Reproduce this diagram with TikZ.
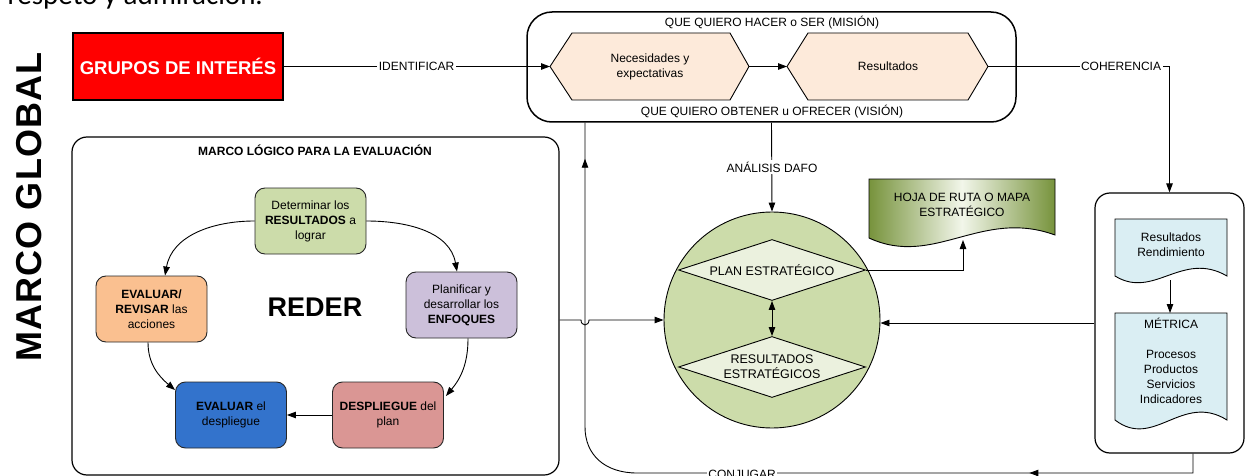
\documentclass[tikz,border=0pt]{standalone}
\usepackage{fontspec}
\setmainfont{Liberation Sans}
\newfontfamily\calfont{Carlito}
\newfontfamily\mgfont[LetterSpace=3]{Liberation Sans}
\usetikzlibrary{arrows.meta,shapes.geometric,calc,decorations.markings}
\definecolor{cred}{HTML}{FF0000}
\definecolor{hexfill}{HTML}{FDEADA}
\definecolor{cgreen}{HTML}{CCDCAA}
\definecolor{dfill}{HTML}{EBF1DE}
\definecolor{cpurple}{HTML}{CCC0DA}
\definecolor{corange}{HTML}{FAC090}
\definecolor{cblue}{HTML}{3373CC}
\definecolor{credbox}{HTML}{DA9694}
\definecolor{docblue}{HTML}{DAEEF3}
\definecolor{hojaD}{HTML}{77933C}
\definecolor{hojaL}{HTML}{F2F6EA}
\begin{document}
\begin{tikzpicture}[x=1pt,y=1pt,
  every node/.style={font=\fontsize{12}{15}\selectfont, align=center, inner sep=0pt},
  ln/.style={draw=black, line width=0.9pt},
  tip/.style={-{Triangle[length=9pt,width=6.5pt]}},
  lbl/.style={fill=white, inner sep=1.5pt},
  rederbox/.style={draw=black!85, line width=0.9pt, rounded corners=10pt, minimum width=111pt, minimum height=66pt},
  docline/.style={draw=black, line width=0.9pt},
]
\useasboundingbox (0,0) rectangle (1245,-476);

% partial text at the top
\node[anchor=base east, font=\calfont\fontsize{29}{31}\selectfont] (toptext) at (263,-5) {respeto y admiración.};

% MARCO GLOBAL
\node[rotate=90, font=\mgfont\bfseries\fontsize{36}{40}\selectfont] (mg) at (29,-207) {MARCO GLOBAL};

% Grupos de interes
\node[draw=black, line width=1.2pt, fill=cred, minimum width=210pt, minimum height=67pt,
      text=white, font=\bfseries\fontsize{18.5}{22}\selectfont] (grupos) at (178,-66.5) {GRUPOS DE INTERÉS};

% Mission box
\node[draw=black, line width=1.5pt, rounded corners=25pt, minimum width=489pt, minimum height=110pt] (mision) at (771.5,-67) {};
\node (mtop) at (772,-23) {QUE QUIERO HACER o SER (MISIÓN)};
\node (mbot) at (772,-112) {QUE QUIERO OBTENER u OFRECER (VISIÓN)};

% hexagons
\coordinate (hex1L) at (550,-66.5);
\coordinate (hex1R) at (749,-66.5);
\coordinate (hex2L) at (787,-66.5);
\coordinate (hex2R) at (988,-66.5);
\draw[line width=0.9pt, fill=hexfill] (hex1L) -- (572,-33) -- (730,-33) -- (hex1R) -- (730,-100) -- (572,-100) -- cycle;
\draw[line width=0.9pt, fill=hexfill] (hex2L) -- (808,-33) -- (968,-33) -- (hex2R) -- (968,-100) -- (808,-100) -- cycle;
\node (hex1t) at (650,-66.5) {Necesidades y\\expectativas};
\node (hex2t) at (888,-66.5) {Resultados};

% MARCO LOGICO box
\node[draw=black, line width=1.2pt, rounded corners=15pt, minimum width=487pt, minimum height=338pt] (marco) at (315.5,-306) {};
\node[font=\bfseries\fontsize{12}{15}\selectfont] (marcot) at (315,-150) {MARCO LÓGICO PARA LA EVALUACIÓN};
\node[font=\bfseries\fontsize{27}{30}\selectfont] (reder) at (315,-307) {REDER};

\node[rederbox, fill=cgreen] (g) at (310.5,-221) {Determinar los\\\textbf{RESULTADOS} a\\lograr};
\node[rederbox, fill=cpurple] (p) at (461.5,-305) {Planificar y\\desarrollar los\\\textbf{ENFOQUES}};
\node[rederbox, fill=corange] (o) at (151.5,-309) {\textbf{EVALUAR/}\\\textbf{REVISAR} las\\acciones};
\node[rederbox, fill=cblue] (b) at (231,-415) {\textbf{EVALUAR} el\\despliegue};
\node[rederbox, fill=credbox] (r) at (388,-415) {\textbf{DESPLIEGUE} del\\plan};

\draw[ln,tip] (g.west) to[out=180,in=80] ($(o.north)+(13.5,0)$);
\draw[ln,tip] (g.east) to[out=0,in=100] ($(p.north)+(-4.5,0)$);
\draw[ln,tip] ($(p.south)+(6.5,0)$) to[out=-90,in=50] ($(r.east)+(2,19)$);
\draw[ln,tip] ($(o.south)+(-3.5,0)$) to[out=-90,in=140] ($(b.west)+(0,25)$);
\draw[ln,tip] (r.west) -- (b.east);

% circle and diamonds
\node[circle, draw=black, line width=0.9pt, fill=cgreen, minimum size=216pt] (circ) at (772,-320) {};
\node[diamond, draw=black, line width=0.9pt, fill=dfill, aspect=3, minimum width=187pt, minimum height=61pt, font=\fontsize{12.5}{15}\selectfont] (d1) at (772,-270) {PLAN ESTRATÉGICO};
\node[diamond, draw=black, line width=0.9pt, fill=dfill, aspect=3, minimum width=187pt, minimum height=61pt, font=\fontsize{12.5}{15}\selectfont] (d2) at (772,-367) {RESULTADOS\\ESTRATÉGICOS};
\draw[ln,{Triangle[length=9pt,width=6.5pt]}-{Triangle[length=9pt,width=6.5pt]}] (d1.south) -- (d2.north);

% HOJA DE RUTA document
\shadedraw[docline, left color=hojaD, right color=hojaD, middle color=hojaL]
  (869,-179) -- (1055,-179) -- (1055,-235) .. controls (981,-208) and (934,-268) .. (869,-238) -- cycle;
\node (hoja) at (962,-204.5) {HOJA DE RUTA O MAPA\\ESTRATÉGICO};
\coordinate (hojab) at (963,-240);

% right box with documents
\node[draw=black, line width=1.2pt, rounded corners=15pt, minimum width=149pt, minimum height=260pt] (rbox) at (1169.5,-323) {};
\draw[docline, fill=docblue] (1115,-219) -- (1227,-219) -- (1227,-276) .. controls (1182,-250) and (1154,-300) .. (1115,-276) -- cycle;
\draw[docline, fill=docblue] (1115,-313) -- (1227,-313) -- (1227,-420) .. controls (1182,-392) and (1154,-450) .. (1115,-420) -- cycle;
\node (doc1) at (1171,-244.5) {Resultados\\Rendimiento};
\node (doc2) at (1171,-360.5) {MÉTRICA\\[15pt]Procesos\\Productos\\Servicios\\Indicadores};
\coordinate (doc1b) at (1170,-280);
\coordinate (doc2t) at (1170,-313);
\draw[ln,tip] (doc1b) -- (doc2t);

% connectors
\draw[ln,tip] (grupos.east) -- (hex1L);
\draw[ln,tip] (hex1R) -- (hex2L);
\draw[ln,tip] (hex2R) -| (rbox.north);
\draw[ln,tip] (mision.south) -- (circ.north);
\draw[ln,tip] (d1.east) -| (hojab);
\draw[ln,tip] (marco.east |- circ.west) -- (581,-320) .. controls (581,-326.5) and (589,-326.5) .. (589,-320) -- (circ.west);
\draw[ln,tip] (rbox.west) -- (circ.east |- rbox.west);

\coordinate (cj0) at ($(rbox.south)+(23.5,0)$);
\coordinate (cjend) at ($(mision.south)+(-186.5,0)$);
\draw[ln, postaction={decorate}, decoration={markings,
    mark=at position 183pt with {\arrow{Triangle[length=9pt,width=6.5pt]}},
    mark=at position -36pt with {\arrow{Triangle[length=9pt,width=6.5pt]}}}]
  (cj0) -- (1193,-473) -- (637,-473) .. controls (605,-473) and (585,-455) .. (585,-427) -- (cjend);

% labels on lines
\node[lbl] (lid) at (416.5,-66.5) {IDENTIFICAR};
\node[lbl] (lcoh) at (1121,-66.5) {COHERENCIA};
\node[lbl] (ldafo) at (772,-167) {ANÁLISIS DAFO};
\node[lbl] (lconj) at (742,-474) {CONJUGAR};
\end{tikzpicture}
\end{document}
